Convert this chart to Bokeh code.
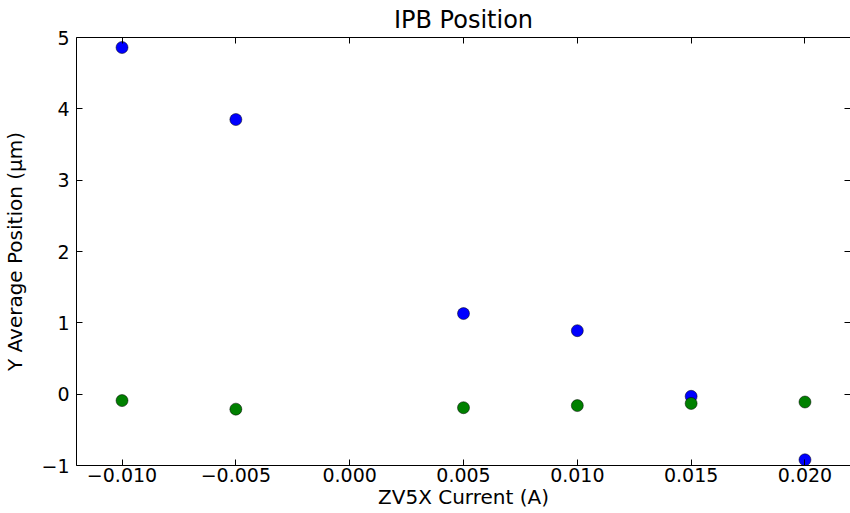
from bokeh.plotting import figure
from bokeh.models import Range1d, LinearAxis, FixedTicker, CustomJSTickFormatter, ColumnDataSource
from bokeh.embed import file_html
from bokeh.resources import INLINE

# data
current = [-0.010, -0.005, 0.005, 0.010, 0.015, 0.020]
blue_y = [4.86, 3.85, 1.13, 0.89, -0.03, -0.92]
green_y = [-0.09, -0.21, -0.19, -0.16, -0.13, -0.11]
x_ticks = [-0.010, -0.005, 0.000, 0.005, 0.010, 0.015, 0.020]
y_ticks = [-1, 0, 1, 2, 3, 4, 5]

FONT = "DejaVu Sans"

p = figure(width=850, height=513, output_backend="svg", toolbar_location=None,
           x_range=Range1d(-0.012, 0.022), y_range=Range1d(-1, 5),
           x_axis_label="ZV5X Current (A)", y_axis_label="Y Average Position (\u03bcm)",
           min_border_left=76, min_border_top=37, min_border_bottom=48, min_border_right=0)

bottom = p.below[0]
left = p.left[0]

p.title.text = "IPB Position"
p.title.align = "center"
p.title.text_font = FONT
p.title.text_font_size = "24px"
p.title.text_font_style = "normal"
p.title.text_color = "black"
p.title.standoff = 7

p.grid.visible = False
p.outline_line_color = None
p.background_fill_color = "white"
p.border_fill_color = "white"

xfmt = CustomJSTickFormatter(code="return tick.toFixed(3).replace('-', '\u2212');")
yfmt = CustomJSTickFormatter(code="return tick.toFixed(0).replace('-', '\u2212');")
blank = CustomJSTickFormatter(code="return '';")

bottom.ticker = FixedTicker(ticks=x_ticks)
bottom.formatter = xfmt
left.ticker = FixedTicker(ticks=y_ticks)
left.formatter = yfmt

top = LinearAxis(ticker=FixedTicker(ticks=x_ticks), formatter=blank,
                 major_label_standoff=0)
right = LinearAxis(ticker=FixedTicker(ticks=y_ticks), formatter=blank,
                   major_label_standoff=0, axis_line_color=None)
p.add_layout(top, "above")
p.add_layout(right, "right")

for ax in [bottom, left, top, right]:
    ax.major_tick_in = 6
    ax.major_tick_out = 0
    ax.minor_tick_in = 0
    ax.minor_tick_out = 0
    ax.major_tick_line_color = "black"
    ax.major_label_text_font = FONT
    ax.major_label_text_color = "black"
    ax.axis_label_text_font = FONT
    ax.axis_label_text_font_style = "normal"
    ax.axis_label_text_color = "black"
    if ax.axis_line_color is not None:
        ax.axis_line_color = "black"

for ax in [bottom, left]:
    ax.major_label_text_font_size = "19px"
    ax.axis_label_text_font_size = "20px"
bottom.major_label_standoff = 2
left.major_label_standoff = 7
bottom.axis_label_standoff = 0
left.axis_label_standoff = 11

src = ColumnDataSource(dict(x=current, b=blue_y, g=green_y))
p.scatter("x", "b", source=src, size=12, fill_color="#0000ff", line_color="black", line_width=0.5)
p.scatter("x", "g", source=src, size=12, fill_color="#008000", line_color="black", line_width=0.5)

open("out.html", "w").write(file_html(p, INLINE))
